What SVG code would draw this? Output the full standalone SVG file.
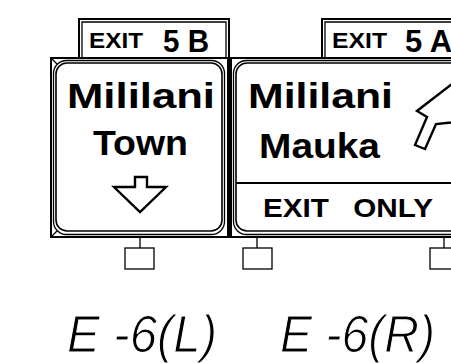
<svg xmlns="http://www.w3.org/2000/svg" width="451" height="363" viewBox="0 0 451 363">
<style>
.ln{fill:none;stroke:#000;stroke-width:2}
.thin{fill:none;stroke:#000;stroke-width:1.3}
.pan{fill:#fff;stroke:#000;stroke-width:1.6}
.b{font-family:"Liberation Sans",Arial,sans-serif;font-weight:bold;fill:#000}
.lab{font-family:"Liberation Sans",Arial,sans-serif;font-style:italic;fill:#000;stroke:#fff;stroke-width:1.1}
.arr{fill:#fff;stroke:#000;stroke-width:2.4;stroke-linejoin:miter}
</style>
<rect width="451" height="363" fill="#fff"/>
<g id="sign-left">
  <path class="ln" d="M79,58 V19 H229 V58"/>
  <path class="thin" d="M82,58 V22 H226 V58"/>
  <text class="b" x="89" y="48" font-size="22" textLength="54" lengthAdjust="spacingAndGlyphs">EXIT</text>
  <text class="b" x="163" y="52" font-size="31" textLength="46" lengthAdjust="spacingAndGlyphs">5 B</text>
  <rect class="ln" x="51" y="58" width="178" height="179"/>
  <rect class="thin" x="53.5" y="60.5" width="171" height="174" rx="13"/>
  <rect class="pan" x="56" y="63" width="166" height="168" rx="11"/>
  <path class="thin" d="M51,58 L57,64 M51,237 L57,231"/>
  <text class="b" x="67" y="108" font-size="35" textLength="148" lengthAdjust="spacingAndGlyphs">Mililani</text>
  <text class="b" x="93" y="155" font-size="35" textLength="95" lengthAdjust="spacingAndGlyphs">Town</text>
  <polygon class="arr" points="135,177 147,177 147,187 166,187 140,212 114,187 135,187"/>
</g>
<g id="sign-right">
  <path class="ln" d="M322,58 V19 H460"/>
  <path class="thin" d="M325,58 V22 H460"/>
  <text class="b" x="332" y="48" font-size="22" textLength="55" lengthAdjust="spacingAndGlyphs">EXIT</text>
  <text class="b" x="405" y="52" font-size="31">5 A</text>
  <path class="ln" d="M229,58 H460 M229,237 H460"/>
  <rect class="thin" x="233.5" y="60.5" width="240" height="174" rx="13"/>
  <rect class="pan" x="236" y="63" width="235" height="168" rx="11"/>
  <line x1="236" y1="183" x2="451" y2="183" stroke="#000" stroke-width="2"/>
  <text class="b" x="248" y="108" font-size="35" textLength="145" lengthAdjust="spacingAndGlyphs">Mililani</text>
  <text class="b" x="259" y="158" font-size="35" textLength="121" lengthAdjust="spacingAndGlyphs">Mauka</text>
  <text class="b" x="263" y="217" font-size="26" word-spacing="14" textLength="170" lengthAdjust="spacingAndGlyphs">EXIT ONLY</text>
  <polygon class="arr" points="415,145 425,149 436,124 455,122 452,84 417,111 427,117"/>
</g>
<g id="divider">
  <rect x="227" y="58" width="5" height="179" fill="#000"/>
</g>
<g id="connectors">
  <path class="thin" d="M140,237 V248 M257,237 V248 M444,237 V248"/>
</g>
<g id="posts">
  <rect class="thin" x="125" y="248" width="29" height="21"/>
  <rect class="thin" x="243" y="248" width="29" height="21"/>
  <rect class="thin" x="430" y="248" width="29" height="21"/>
</g>
<g id="labels">
  <text class="lab" x="67" y="352" font-size="52" textLength="150" lengthAdjust="spacingAndGlyphs">E -6(L)</text>
  <text class="lab" x="280" y="352" font-size="52" textLength="155" lengthAdjust="spacingAndGlyphs">E -6(R)</text>
</g>
</svg>
